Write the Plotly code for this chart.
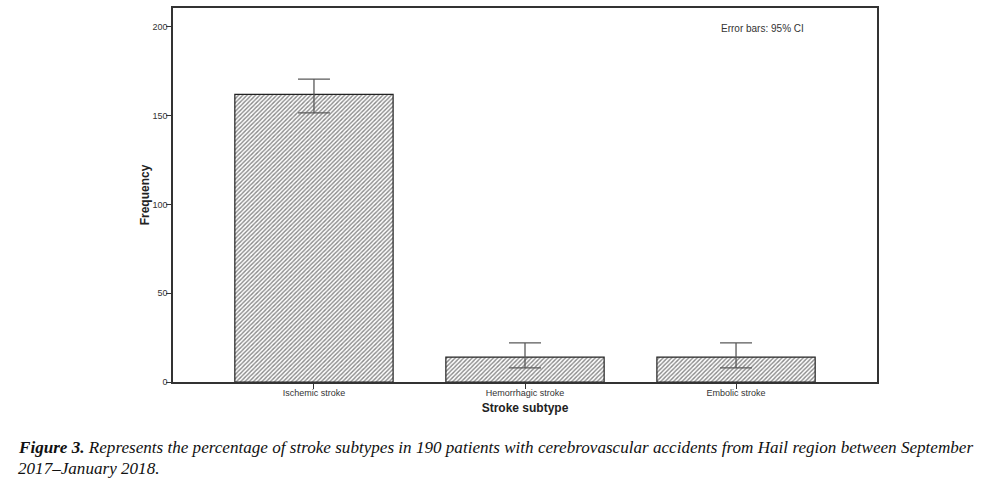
import plotly.graph_objects as go

categories = ["Ischemic stroke", "Hemorrhagic stroke", "Embolic stroke"]
frequency = [162, 14, 14]
ci_upper = [170.6, 22, 22]
ci_lower = [151.5, 8, 8]
y_ticks = [0, 50, 100, 150, 200]

err_plus = [u - v for u, v in zip(ci_upper, frequency)]
err_minus = [v - l for v, l in zip(frequency, ci_lower)]

fig = go.Figure()
fig.add_trace(go.Bar(
    x=categories,
    y=frequency,
    width=0.75,
    marker=dict(
        color="white",
        line=dict(color="#222222", width=1.2),
        pattern=dict(shape="/", fgcolor="#111111", bgcolor="white", size=3, solidity=0.45),
    ),
    error_y=dict(
        type="data", symmetric=False, array=err_plus, arrayminus=err_minus,
        color="#5a5a5a", thickness=1.3, width=16,
    ),
    showlegend=False,
))

fig.update_layout(
    width=984, height=478,
    margin=dict(l=173, r=107, t=6, b=96),
    paper_bgcolor="white", plot_bgcolor="white",
    font=dict(family="Liberation Sans, Arial, sans-serif", size=9, color="#333333"),
    xaxis=dict(
        range=[-0.668, 2.668],
        showgrid=False, zeroline=False,
        showline=True, linecolor="#333333", linewidth=1.5, mirror=True,
        ticks="outside", ticklen=5, tickcolor="#333333",
        ticklabelstandoff=-4,
        tickfont=dict(size=9, color="#333333"),
        title=dict(text="<b>Stroke subtype</b>", font=dict(size=12, color="#222222"), standoff=7),
    ),
    yaxis=dict(
        range=[0, 210.6],
        tickvals=y_ticks,
        showgrid=False, zeroline=False,
        showline=True, linecolor="#333333", linewidth=1.5, mirror=True,
        ticks="outside", ticklen=5, tickcolor="#333333",
        ticklabelstandoff=-3,
        tickfont=dict(size=9, color="#333333"),
        title=dict(text="<b>Frequency</b>", font=dict(size=12, color="#222222"), standoff=0),
    ),
)

fig.add_annotation(
    xref="paper", yref="paper", x=0.837, y=0.945, xanchor="center", yanchor="middle",
    text="Error bars: 95% CI", showarrow=False,
    font=dict(size=10, color="#333333", family="Liberation Sans, Arial, sans-serif"),
)

caption1 = ("<b><i>Figure 3.</i></b><i> Represents the percentage of stroke subtypes in 190 patients "
            "with cerebrovascular accidents from Hail region between September</i>")
caption2 = "<i>2017–January 2018.</i>"
fig.add_annotation(
    xref="paper", yref="paper", x=-0.2225, y=-0.1755, xanchor="left", yanchor="middle",
    text=caption1, showarrow=False, align="left",
    font=dict(size=17.1, color="#111111", family="Liberation Serif, Times New Roman, serif"),
)
fig.add_annotation(
    xref="paper", yref="paper", x=-0.2225, y=-0.231, xanchor="left", yanchor="middle",
    text=caption2, showarrow=False, align="left",
    font=dict(size=17.1, color="#111111", family="Liberation Serif, Times New Roman, serif"),
)

fig.write_html("out.html", config={"displayModeBar": False},
               post_script="document.body.style.margin='0';")
